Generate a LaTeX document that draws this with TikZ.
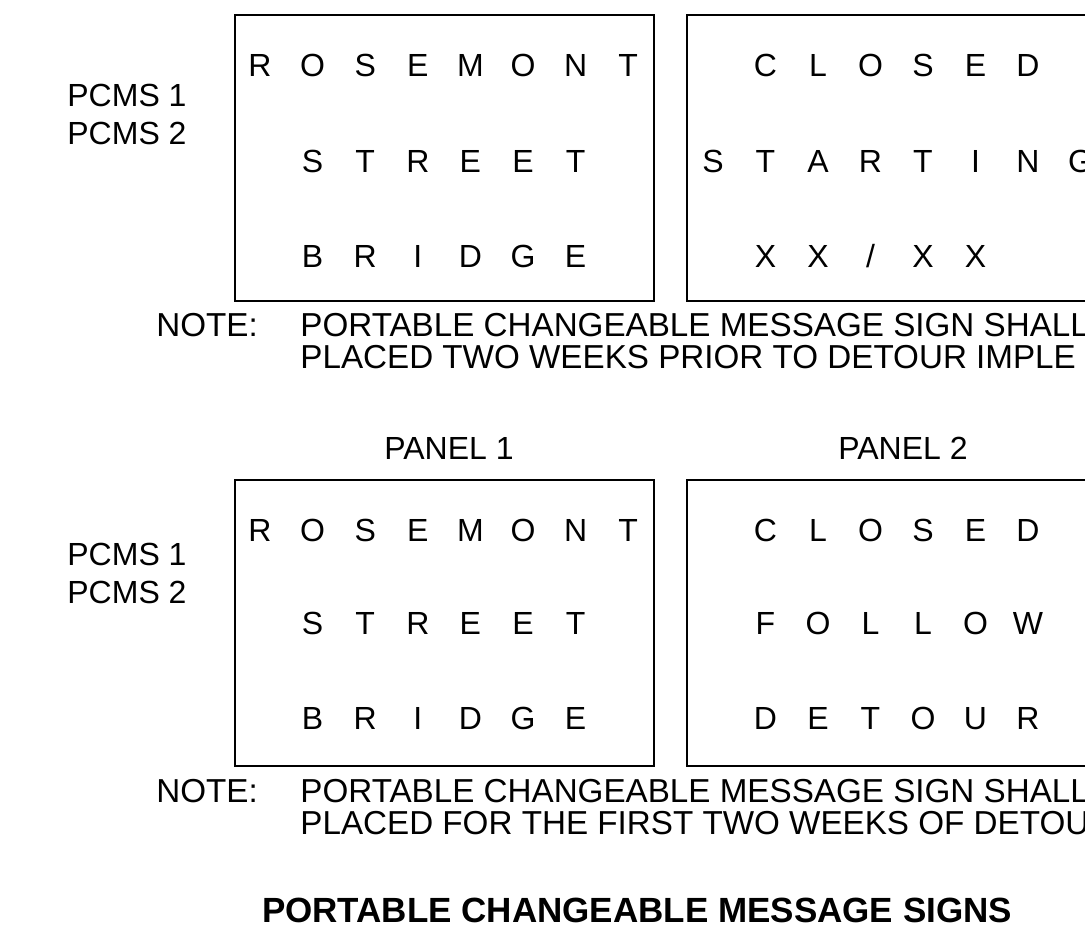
\documentclass[tikz,border=0pt]{standalone}
\usepackage{fontspec}
\setmainfont{Liberation Sans}
\begin{document}
\begin{tikzpicture}[x=0.5pt,y=-0.5pt,
  txt/.style={font=\fontsize{16pt}{19pt}\selectfont, inner sep=0pt, anchor=base},
  ltxt/.style={txt, anchor=base west},
  ntxt/.style={font=\fontsize{16.6pt}{20pt}\selectfont, inner sep=0pt, anchor=base west},
  ttl/.style={font=\fontsize{17.5pt}{21pt}\selectfont\bfseries, inner sep=0pt, anchor=base},
  signbox/.style={draw, line width=0.7pt, anchor=north west, minimum width=209.5pt, minimum height=143pt, inner sep=0pt, outer sep=0pt}]
\useasboundingbox (0,0) rectangle (1085,951);
\clip (0,0) rectangle (1085,951);

% ---------- upper set ----------
\node[signbox] (ub1) at (235,15) {};
\node[signbox] (ub2) at (687,15) {};
\node[ltxt] (upa) at (67,107) {PCMS 1};
\node[ltxt] (upb) at (67,145) {PCMS 2};

\foreach \l [count=\i from 0] in {R,O,S,E,M,O,N,T}
  \node[txt] (ua\i) at ({260+52.6*\i},77) {\l};
\foreach \l [count=\i from 1] in {S,T,R,E,E,T}
  \node[txt] (ub\i) at ({260+52.6*\i},173) {\l};
\foreach \l [count=\i from 1] in {B,R,I,D,G,E}
  \node[txt] (uc\i) at ({260+52.6*\i},268) {\l};

\foreach \l [count=\i from 1] in {C,L,O,S,E,D}
  \node[txt] (ud\i) at ({713+52.5*\i},77) {\l};
\foreach \l [count=\i from 0] in {S,T,A,R,T,I,N,G}
  \node[txt] (ue\i) at ({713+52.5*\i},173) {\l};
\foreach \l [count=\i from 1] in {X,X,/,X,X}
  \node[txt] (uf\i) at ({713+52.5*\i},268) {\l};

\node[ntxt] (n1) at (156,337) {NOTE:};
\node[ntxt] (n1a) at (300,337) {PORTABLE CHANGEABLE MESSAGE SIGN SHALL};
\node[ntxt] (n1b) at (300,369) {PLACED TWO WEEKS PRIOR TO DETOUR IMPLE};

% ---------- lower set ----------
\node[txt] (p1) at (449,459) {PANEL 1};
\node[txt] (p2) at (903,459) {PANEL 2};

\node[signbox] (lb1) at (235,480) {};
\node[signbox] (lb2) at (687,480) {};
\node[ltxt] (lpa) at (67,565) {PCMS 1};
\node[ltxt] (lpb) at (67,603) {PCMS 2};

\foreach \l [count=\i from 0] in {R,O,S,E,M,O,N,T}
  \node[txt] (la\i) at ({260+52.6*\i},541) {\l};
\foreach \l [count=\i from 1] in {S,T,R,E,E,T}
  \node[txt] (lb\i) at ({260+52.6*\i},634) {\l};
\foreach \l [count=\i from 1] in {B,R,I,D,G,E}
  \node[txt] (lc\i) at ({260+52.6*\i},729) {\l};

\foreach \l [count=\i from 1] in {C,L,O,S,E,D}
  \node[txt] (ld\i) at ({713+52.5*\i},541) {\l};
\foreach \l [count=\i from 1] in {F,O,L,L,O,W}
  \node[txt] (le\i) at ({713+52.5*\i},634) {\l};
\foreach \l [count=\i from 1] in {D,E,T,O,U,R}
  \node[txt] (lf\i) at ({713+52.5*\i},729) {\l};

\node[ntxt] (n2) at (156,802) {NOTE:};
\node[ntxt] (n2a) at (300,802) {PORTABLE CHANGEABLE MESSAGE SIGN SHALL};
\node[ntxt] (n2b) at (300,834) {PLACED FOR THE FIRST TWO WEEKS OF DETOU};

\node[ttl] (title) at (637,922) {PORTABLE CHANGEABLE MESSAGE SIGNS};
\end{tikzpicture}
\end{document}
